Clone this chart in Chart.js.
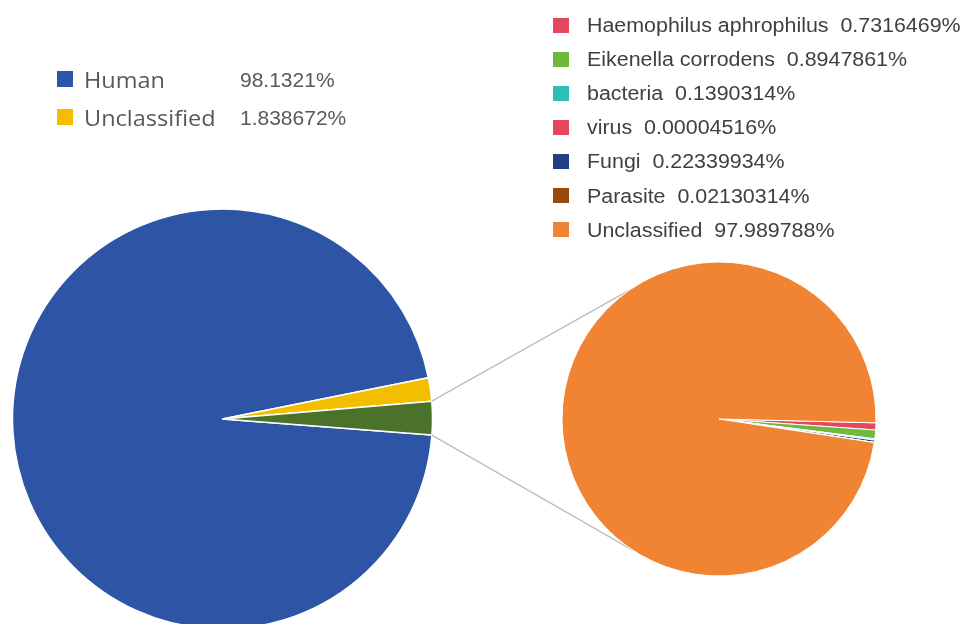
<!DOCTYPE html>
<html>
<head>
<meta charset="utf-8">
<script src="https://cdn.jsdelivr.net/npm/chart.js@4/dist/chart.umd.min.js"></script>
<style>
  html, body { margin: 0; padding: 0; background: #fff; overflow: hidden; }
  #stage { position: relative; width: 969px; height: 624px; overflow: hidden; background: #fff; }
  #stage canvas { position: absolute; left: 0; top: 0; }
  .sw { position: absolute; }
  .txt { position: absolute; white-space: pre; transform-origin: 0 50%; }
</style>
</head>
<body>
<div id="stage">
  <canvas id="mainPie" width="969" height="660"></canvas>
  <canvas id="detailPie" width="969" height="660"></canvas>
</div>
<script>
// Sample composition (left pie); the last slice is the one broken out on the right
const mainLabels = ['Human', 'Unclassified', 'Other'];
const mainValues = [98.1321, 1.838672, 2.64];
const mainColors = ['#2E54A5', '#F3BE00', '#4A7229'];
const mainLegendCount = 2;

// Breakdown of the broken-out slice (right pie)
const detailLabels = ['Haemophilus aphrophilus', 'Eikenella corrodens', 'bacteria', 'virus', 'Fungi', 'Parasite', 'Unclassified'];
const detailValues = [0.7316469, 0.8947861, 0.1390314, 0.00004516, 0.22339934, 0.02130314, 97.989788];
const detailColors = ['#E4485E', '#6EB83C', '#2DBFB1', '#E4485E', '#243F80', '#964B10', '#F08432'];

const stage = document.getElementById('stage');

function addSwatch(x, y, w, h, color) {
  const d = document.createElement('div');
  d.className = 'sw';
  Object.assign(d.style, { left: x + 'px', top: y + 'px', width: w + 'px', height: h + 'px', background: color });
  stage.appendChild(d);
}
function addText(x, cy, text, font, size, color, scaleX) {
  const s = document.createElement('div');
  s.className = 'txt';
  const lh = Math.round(size * 1.6);
  Object.assign(s.style, {
    left: x + 'px', top: (cy - lh / 2) + 'px', lineHeight: lh + 'px',
    fontFamily: font, fontSize: size + 'px', color: color,
    transform: 'scaleX(' + scaleX + ')'
  });
  s.textContent = text;
  stage.appendChild(s);
}

// Left legend: label column and value column
for (let i = 0; i < mainLegendCount; i++) {
  const cy = 80 + i * 38;
  addSwatch(57, cy - 9, 16, 16, mainColors[i]);
  addText(84, cy, mainLabels[i], '"Open Sans", sans-serif', 21, '#595959', 1.12);
  addText(240, cy, mainValues[i] + '%', '"Liberation Sans", Arial, sans-serif', 21, '#595959', 1.0);
}

// Right legend
for (let i = 0; i < detailLabels.length; i++) {
  const cy = 25 + i * 34.1;
  addSwatch(553, cy - 7.5, 16, 15, detailColors[i]);
  addText(587, cy, detailLabels[i] + '\u00a0\u00a0' + detailValues[i] + '%', '"Liberation Sans", Arial, sans-serif', 20, '#404040', 1.07);
}

const common = {
  responsive: false,
  animation: false,
  events: [],
  plugins: { legend: { display: false }, tooltip: { enabled: false } }
};

const mainChart = new Chart(document.getElementById('mainPie'), {
  type: 'pie',
  data: {
    labels: mainLabels,
    datasets: [{ data: mainValues, backgroundColor: mainColors, borderColor: '#ffffff', borderWidth: 1.5 }]
  },
  options: Object.assign({}, common, {
    rotation: 94.4,
    radius: 210,
    layout: { padding: { left: 0, right: 524, top: 199, bottom: 21 } }
  })
});

// Series lines from the broken-out slice to the right pie
const connectorPlugin = {
  id: 'connectors',
  beforeDatasetsDraw(chart) {
    const src = mainChart.getDatasetMeta(0).data[mainValues.length - 1];
    const dst = chart.getDatasetMeta(0).data[0];
    if (!src || !dst) return;
    const R = src.outerRadius, r = dst.outerRadius;
    const upperEnd = 235 * Math.PI / 180;
    const lowerEnd = 123 * Math.PI / 180;
    const ctx = chart.ctx;
    ctx.save();
    ctx.strokeStyle = '#BFBFBF';
    ctx.lineWidth = 1.5;
    ctx.beginPath();
    ctx.moveTo(src.x + R * Math.cos(src.startAngle), src.y + R * Math.sin(src.startAngle));
    ctx.lineTo(dst.x + r * Math.cos(upperEnd), dst.y + r * Math.sin(upperEnd));
    ctx.moveTo(src.x + R * Math.cos(src.endAngle), src.y + R * Math.sin(src.endAngle));
    ctx.lineTo(dst.x + r * Math.cos(lowerEnd), dst.y + r * Math.sin(lowerEnd));
    ctx.stroke();
    ctx.restore();
  }
};

new Chart(document.getElementById('detailPie'), {
  type: 'pie',
  data: {
    labels: detailLabels,
    datasets: [{ data: detailValues, backgroundColor: detailColors, borderColor: '#ffffff', borderWidth: 1 }]
  },
  options: Object.assign({}, common, {
    rotation: 91.4,
    radius: 157,
    layout: { padding: { left: 559, right: 90, top: 259, bottom: 81 } }
  }),
  plugins: [connectorPlugin]
});
</script>
</body>
</html>
